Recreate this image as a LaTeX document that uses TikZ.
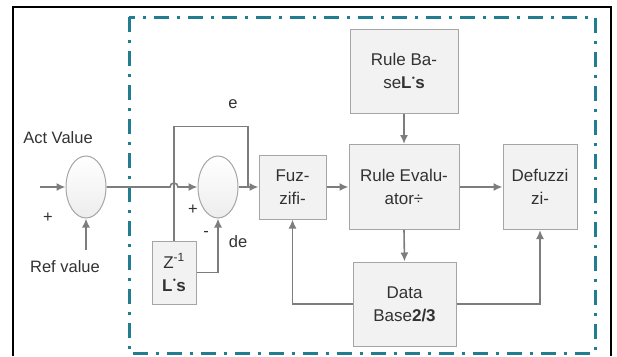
\documentclass[tikz,border=0pt]{standalone}
\usepackage{fontspec}
\setmainfont{Liberation Sans}
\usetikzlibrary{arrows.meta,positioning,calc,shapes.geometric}
\definecolor{flcteal}{RGB}{35,125,145}
\definecolor{flcwire}{RGB}{125,125,125}
\definecolor{flcedge}{RGB}{165,165,165}
\definecolor{flcfill}{RGB}{242,242,242}
\definecolor{flctext}{RGB}{50,50,50}
\newcommand{\lsmark}{\textbf{L}\raisebox{0.55em}{\tiny$\bullet$}\textbf{s}}
\tikzset{
  flc box/.style={
    draw=flcedge,
    line width=1pt,
    fill=flcfill,
    text=flctext,
    align=center,
    inner sep=0pt,
    font=\fontsize{17}{23}\selectfont,
  },
  flc sum/.style={
    ellipse,
    draw=flcedge,
    line width=1pt,
    top color=white,
    bottom color=black!7,
    minimum width=40pt,
    minimum height=62pt,
    inner sep=0pt,
  },
  flc wire/.style={
    draw=flcwire,
    line width=1.6pt,
  },
  flc arrow/.style={
    flc wire,
    -{Latex[length=9pt,width=8pt]},
  },
  flc label/.style={
    text=flctext,
    inner sep=0pt,
    font=\fontsize{16.5}{19}\selectfont,
  },
}

\begin{document}
\begin{tikzpicture}[x=1pt,y=-1pt]
  \useasboundingbox (0,0) rectangle (617,356);

  % frame and controller boundary
  \draw[black, line width=1.5pt] (13,356) -- (13,7) -- (611,7) -- (611,356);
  \draw[flcteal, line width=3pt, dash pattern=on 15pt off 8pt on 3pt off 8pt] (129,17) rectangle (595,353);

  % error summing point
  \node[flc sum] (sumA) at (86,187) {};
  \coordinate (actIn) at (40,187);
  \coordinate (refIn) at (86,250);
  \node[flc label] (actlab) at (58,138) {Act Value};
  \node[flc label] (reflab) at (65,267) {Ref value};
  \node[flc label] (plusA) at (48,218) {+};
  \draw[flc arrow] (actIn) -- (sumA.west);
  \draw[flc arrow] (refIn) -- (sumA.south);

  % change of error
  \node[flc sum] (sumB) at (218,187) {};
  \node[flc box, minimum width=44pt, minimum height=63pt] (delay) at (174,272.5)
    {Z\textsuperscript{-1}\\\lsmark};
  \coordinate (eJoin) at (248,187);
  \draw[flc arrow] (sumA.east) -- (170,187) arc[start angle=180,end angle=0,radius=4pt] -- (sumB.west);
  \draw[flc wire] (delay.north) -- ++(0,-114) -| (eJoin);
  \draw[flc arrow] (delay.east) -| (sumB.south);
  \node[flc label] (elab) at (233,104) {e};
  \node[flc label] (delab) at (238,242) {de};
  \node[flc label] (plusB) at (193,210) {+};
  \node[flc label] (minusB) at (206,234) {-};

  % fuzzy logic blocks
  \node[flc box, minimum width=67pt, minimum height=64pt] (fuz) at (292.5,187) {Fuz-\\zifi-};
  \node[flc box, minimum width=110pt, minimum height=85pt] (eval) at (404,187) {Rule Evalu-\\ator÷};
  \node[flc box, minimum width=108pt, minimum height=84pt] (base) at (404,71) {Rule Ba-\\se\lsmark};
  \node[flc box, minimum width=74pt, minimum height=85pt] (defuz) at (540,187) {Defuzzi\\zi-};
  \node[flc box, minimum width=103pt, minimum height=84pt] (data) at (404.5,304) {Data\\Base\textbf{2/3}};

  \draw[flc arrow] (sumB.east) -- (fuz.west);
  \draw[flc arrow] (fuz.east) -- (eval.west);
  \draw[flc arrow] (eval.east) -- (defuz.west);
  \draw[flc arrow] (base.south) -- (eval.north);
  \draw[flc arrow] (eval.south) -- (data.north);
  \draw[flc arrow] (data.east) -| (defuz.south);
  \draw[flc arrow] (data.west) -| (fuz.south);
\end{tikzpicture}
\end{document}
